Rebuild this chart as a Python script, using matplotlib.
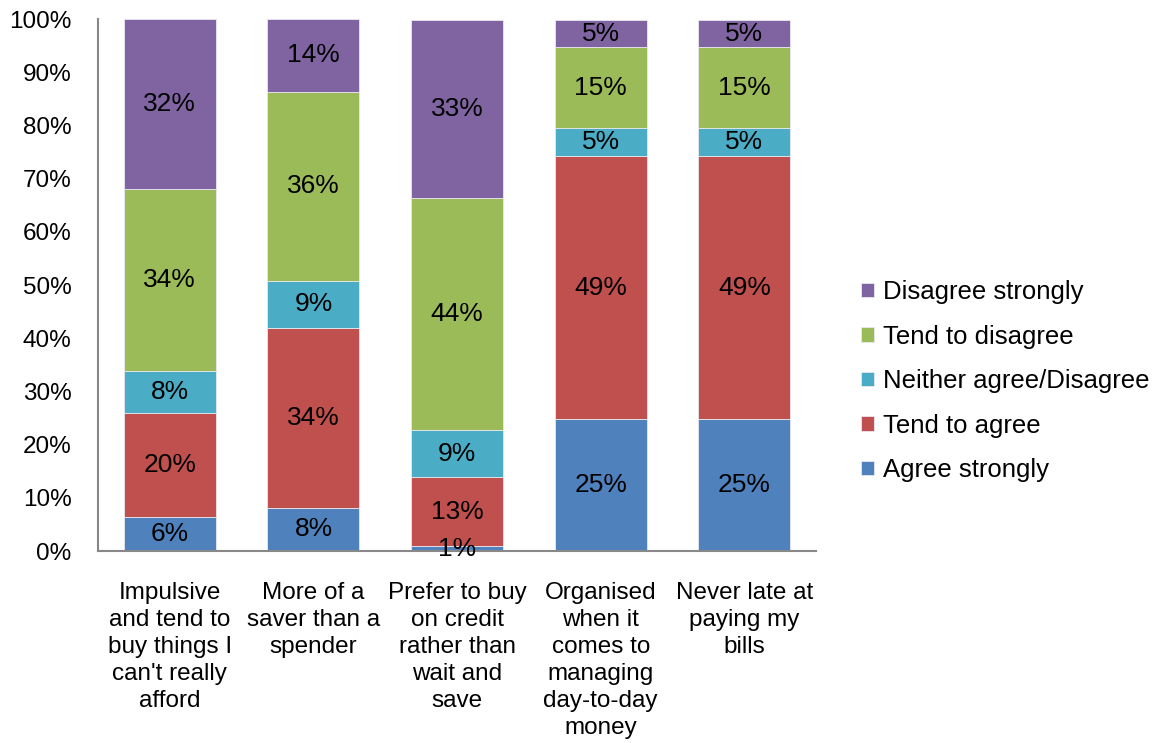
import matplotlib
import matplotlib.pyplot as plt
import numpy as np

matplotlib.use('Agg')
plt.rcParams['font.family'] = ['Liberation Sans', 'DejaVu Sans']

categories = ['Impulsive\nand tend to\nbuy things I\ncan\'t really\nafford',
              'More of a\nsaver than a\nspender',
              'Prefer to buy\non credit\nrather than\nwait and\nsave',
              'Organised\nwhen it\ncomes to\nmanaging\nday-to-day\nmoney',
              'Never late at\npaying my\nbills']

series_names = ['Agree strongly', 'Tend to agree', 'Neither agree/Disagree',
                'Tend to disagree', 'Disagree strongly']

# percentages (bottom to top)
agree_strongly = [6.4, 8.1, 0.9, 24.8, 24.8]
tend_to_agree = [19.5, 33.8, 13.0, 49.4, 49.4]
neither = [7.9, 8.9, 8.8, 5.3, 5.3]
tend_to_disagree = [34.2, 35.5, 43.7, 15.2, 15.2]
disagree_strongly = [32.0, 13.7, 33.4, 5.1, 5.1]

colors = ['#4F81BD', '#C0504D', '#4BACC6', '#9BBB59', '#8064A2']

all_series = [agree_strongly, tend_to_agree, neither, tend_to_disagree, disagree_strongly]

fig = plt.figure(figsize=(11.61, 7.43), dpi=100)
ax = fig.add_axes([0.0844, 0.2584, 0.6186, 0.716])

x = np.arange(len(categories))
bottom = np.zeros(len(categories))
handles = []
for name, vals, col in zip(series_names, all_series, colors):
    vals = np.array(vals)
    bars = ax.bar(x, vals, 0.64, bottom=bottom, color=col, edgecolor='#e8e8f0',
                  linewidth=0.6, label=name)
    handles.append(bars)
    for xi, b, v in zip(x, bottom, vals):
        ax.text(xi, b + v / 2, f'{round(v):.0f}%', ha='center', va='center',
                fontsize=19, color='black')
    bottom += vals

ax.set_xlim(-0.5, len(categories) - 0.5)
ax.set_ylim(0, 100)
ax.set_yticks(np.arange(0, 101, 10))
ax.set_yticklabels([f'{v}%' for v in range(0, 101, 10)], fontsize=17.5)
ax.set_xticks(x)
ax.set_xticklabels(categories, fontsize=17.5, linespacing=1.3, va='top')
ax.tick_params(axis='y', length=0, pad=19)
ax.tick_params(axis='x', length=0, pad=22)

for side in ['top', 'right']:
    ax.spines[side].set_visible(False)
for side in ['left', 'bottom']:
    ax.spines[side].set_color('#888888')
    ax.spines[side].set_linewidth(1.5)

leg = fig.legend(handles[::-1], series_names[::-1], loc='center left',
                 bbox_to_anchor=(0.722, 0.487), frameon=False, fontsize=18.5,
                 handlelength=0.5, handleheight=0.5, handletextpad=0.35,
                 labelspacing=0.8)

fig.savefig('out.png', dpi=100)
